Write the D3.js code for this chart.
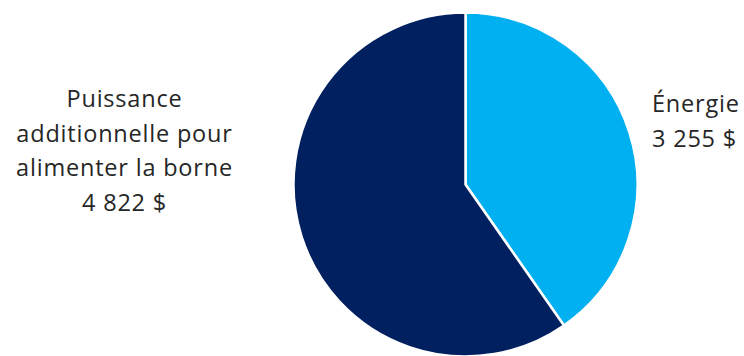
<!DOCTYPE html>
<html>
<head>
<meta charset="utf-8">
<script src="https://cdn.jsdelivr.net/npm/d3@7"></script>
<style>
  html, body { margin: 0; padding: 0; background: #fff; }
  svg text { font-family: "Open Sans", Lato, sans-serif; fill: #262626; font-variant-ligatures: none; }
</style>
</head>
<body>
<svg id="chart" width="744" height="356"></svg>
<script>
// Cost breakdown of a charging station
const categories = ["Énergie", "Puissance additionnelle pour alimenter la borne"];
const values = [3255, 4822];
const valueLabels = ["3 255 $", "4 822 $"];
const colors = ["#00B0F0", "#002060"];
const labelLines = [["Énergie", "3 255 $"], ["Puissance", "additionnelle pour", "alimenter la borne", "4 822 $"]];

const svg = d3.select("#chart");
const cx = 465.5, cy = 184.5, r = 172;

const pie = d3.pie().sort(null).value(d => d)(values);
const arc = d3.arc().innerRadius(0).outerRadius(r);

const g = svg.append("g").attr("transform", `translate(${cx},${cy})`);
g.selectAll("path")
  .data(pie)
  .join("path")
  .attr("d", arc)
  .attr("fill", (d, i) => colors[i])
  .attr("stroke", "#fff")
  .attr("stroke-width", 2.5)
  .attr("stroke-linejoin", "round");

// Labels placed outside the pie
const labelPos = [
  { x: 652, y: 112, anchor: "start" },
  { x: 124.5, y: 107, anchor: "middle" }
];
const lineGap = 34.7;

labelLines.forEach((lines, i) => {
  const t = svg.append("text")
    .attr("x", labelPos[i].x)
    .attr("y", labelPos[i].y)
    .attr("text-anchor", labelPos[i].anchor)
    .attr("font-size", 23.5)
    .attr("letter-spacing", 0.8);
  lines.forEach((line, j) => {
    t.append("tspan")
      .attr("x", labelPos[i].x)
      .attr("dy", j === 0 ? 0 : lineGap)
      .text(line);
  });
});
</script>
</body>
</html>
